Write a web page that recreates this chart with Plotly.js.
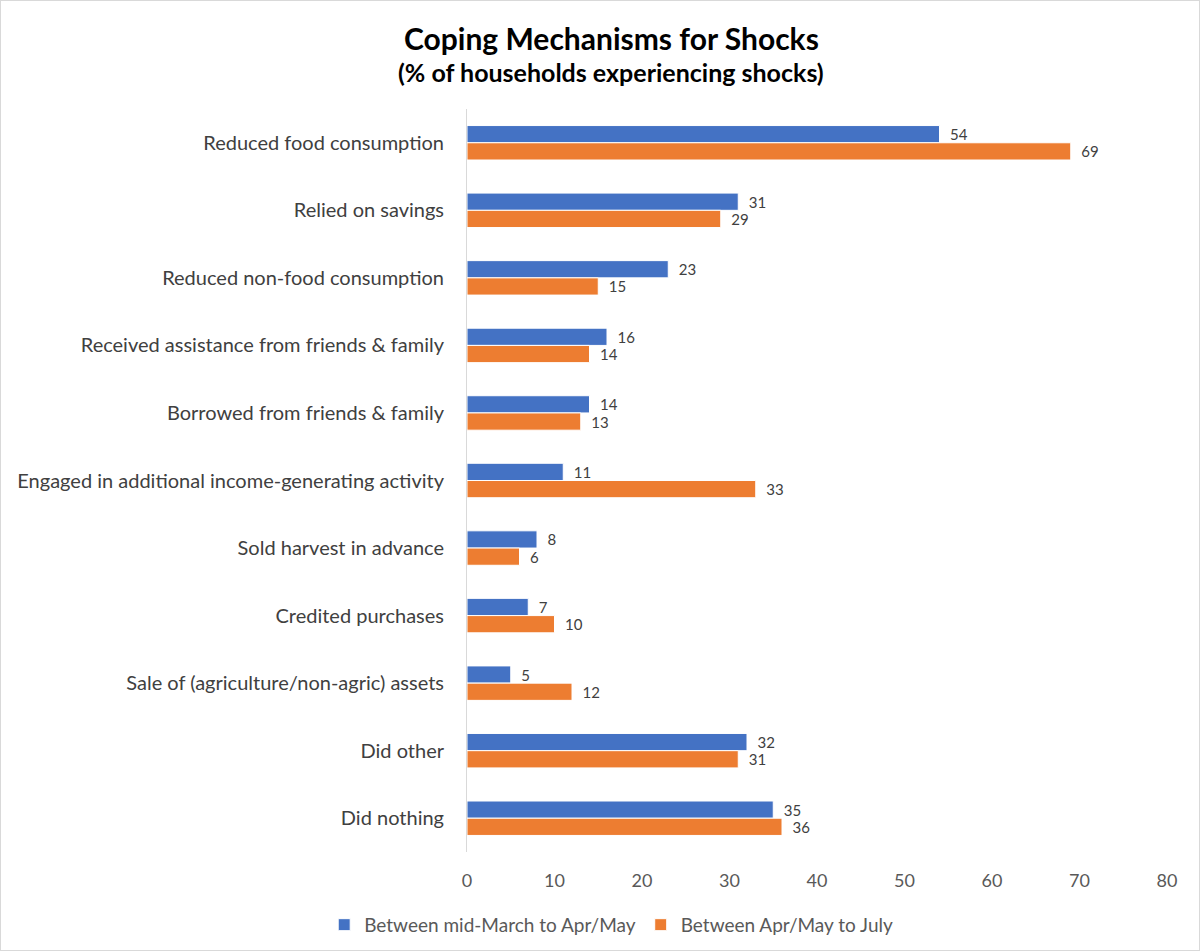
<!DOCTYPE html>
<html><head><meta charset="utf-8">
<script src="https://cdn.plot.ly/plotly-3.0.1.min.js"></script>
<style>body{margin:0;background:#fff}#c{width:1198px;height:949px;border:1px solid #d9d9d9}</style>
</head><body><div id="c"></div>
<script>
const categories = ["Reduced food consumption","Relied on savings","Reduced non-food consumption","Received assistance from friends & family","Borrowed from friends & family","Engaged in additional income-generating activity","Sold harvest in advance","Credited purchases","Sale of (agriculture/non-agric) assets","Did other","Did nothing"];
const seriesNames = ["Between mid-March to Apr/May","Between Apr/May to July"];
const marchToMay = [54,31,23,16,14,11,8,7,5,32,35];
const mayToJuly = [69,29,15,14,13,33,6,10,12,31,36];
const xTicks = [0,10,20,30,40,50,60,70,80];

const font = "Lato, 'Open Sans', sans-serif";
function tr(name, vals, color){
  return {type:'bar', orientation:'h', name:name, y:categories, x:vals,
    marker:{color:color, line:{color:'#ffffff', width:1}},
    text:vals.map(v => '\u2002' + v), textposition:'outside', cliponaxis:false,
    constraintext:'none',
    textfont:{family:font, size:15, color:'#404040'}, hoverinfo:'x+y'};
}
const data = [tr(seriesNames[0], marchToMay, '#4472c4'), tr(seriesNames[1], mayToJuly, '#ed7d31')];
const layout = {
  width:1198, height:949,
  margin:{l:466, r:32, t:108, b:98, autoexpand:false},
  paper_bgcolor:'#fff', plot_bgcolor:'#fff',
  font:{family:font, color:'#595959'},
  annotations:[
    {text:'<b>Coping Mechanisms for Shocks</b>', xref:'paper', yref:'paper', x:0.206, y:1.095, xanchor:'center', yanchor:'middle', showarrow:false, font:{family:font, size:30, color:'#000'}},
    {text:'<b>(% of households experiencing shocks)</b>', xref:'paper', yref:'paper', x:0.206, y:1.05, xanchor:'center', yanchor:'middle', showarrow:false, font:{family:font, size:25, color:'#000'}}
  ],
  barmode:'group', bargap:0.49, bargroupgap:0,
  xaxis:{range:[0,80], tickvals:xTicks, showgrid:false, zeroline:false, showline:false, automargin:false,
    tickfont:{family:font, size:18, color:'#595959'}, ticks:'', ticklabelstandoff:16},
  yaxis:{autorange:'reversed', showline:true, linecolor:'#d9d9d9', linewidth:1, showgrid:false, automargin:false,
    ticks:'', ticklabelstandoff:18, tickfont:{family:font, size:20, color:'#404040'}},
  legend:{orientation:'h', x:0.206, xanchor:'center', y:-0.098, yanchor:'middle',
    font:{family:font, size:19, color:'#595959'}, itemwidth:30, traceorder:'normal'},
  showlegend:true
};
Plotly.newPlot('c', data, layout, {displayModeBar:false});
</script></body></html>
